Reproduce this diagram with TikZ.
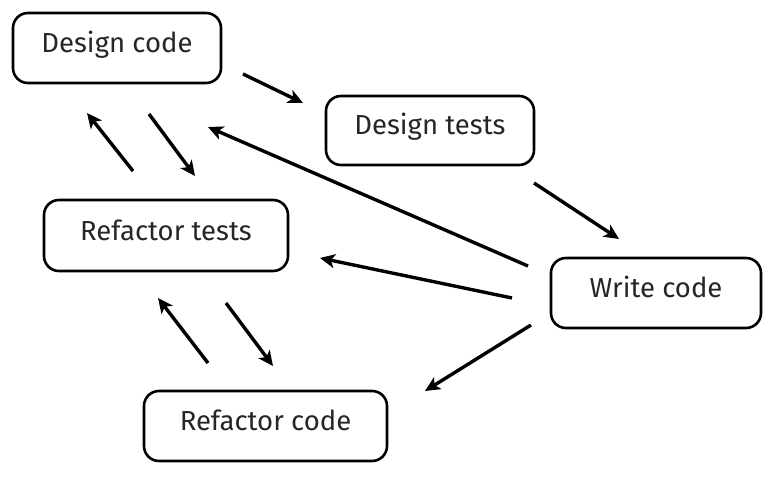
\documentclass[tikz,border=0pt]{standalone}
\usepackage{fontspec}
\setmainfont{Fira Sans}
\usetikzlibrary{arrows.meta}
\begin{document}
\begin{tikzpicture}[x=1pt,y=-1pt,
  stepbox/.style={draw=black, line width=2.6pt, rounded corners=15pt, fill=white,
    font=\fontsize{27.5}{30}\selectfont, text=black!85, text height=20pt, text depth=11pt},
  flow/.style={line width=3.4pt, -{Stealth[length=15pt,width=14pt,inset=4pt]}}]
\useasboundingbox (0,0) rectangle (775,478);
\node[stepbox, minimum width=208pt, minimum height=70pt] (dc) at (117,48) {Design code};
\node[stepbox, minimum width=208pt, minimum height=69pt] (dt) at (430,130.5) {Design tests};
\node[stepbox, minimum width=244pt, minimum height=71pt] (rt) at (166,235.5) {Refactor tests};
\node[stepbox, minimum width=210pt, minimum height=70pt] (wc) at (656,293) {Write code};
\node[stepbox, minimum width=243pt, minimum height=70pt] (rc) at (265.5,426) {Refactor code};
% arrow ends
\coordinate (a1s) at (243,74);   \coordinate (a1e) at (303,103);
\coordinate (a2s) at (534,183);  \coordinate (a2e) at (619,239);
\coordinate (a3s) at (528,266);  \coordinate (a3e) at (208,127);
\coordinate (a4s) at (512,298);  \coordinate (a4e) at (320,258);
\coordinate (a5s) at (531,325);  \coordinate (a5e) at (425,391);
\coordinate (a6s) at (133,171);  \coordinate (a6e) at (87,113);
\coordinate (a7s) at (149,114);  \coordinate (a7e) at (195,176);
\coordinate (a8s) at (208,363);  \coordinate (a8e) at (158,298);
\coordinate (a9s) at (226,303);  \coordinate (a9e) at (273,366);
\draw[flow] (a1s) -- (a1e);
\draw[flow] (a2s) -- (a2e);
\draw[flow] (a3s) -- (a3e);
\draw[flow] (a4s) -- (a4e);
\draw[flow] (a5s) -- (a5e);
\draw[flow] (a6s) -- (a6e);
\draw[flow] (a7s) -- (a7e);
\draw[flow] (a8s) -- (a8e);
\draw[flow] (a9s) -- (a9e);
\end{tikzpicture}
\end{document}
